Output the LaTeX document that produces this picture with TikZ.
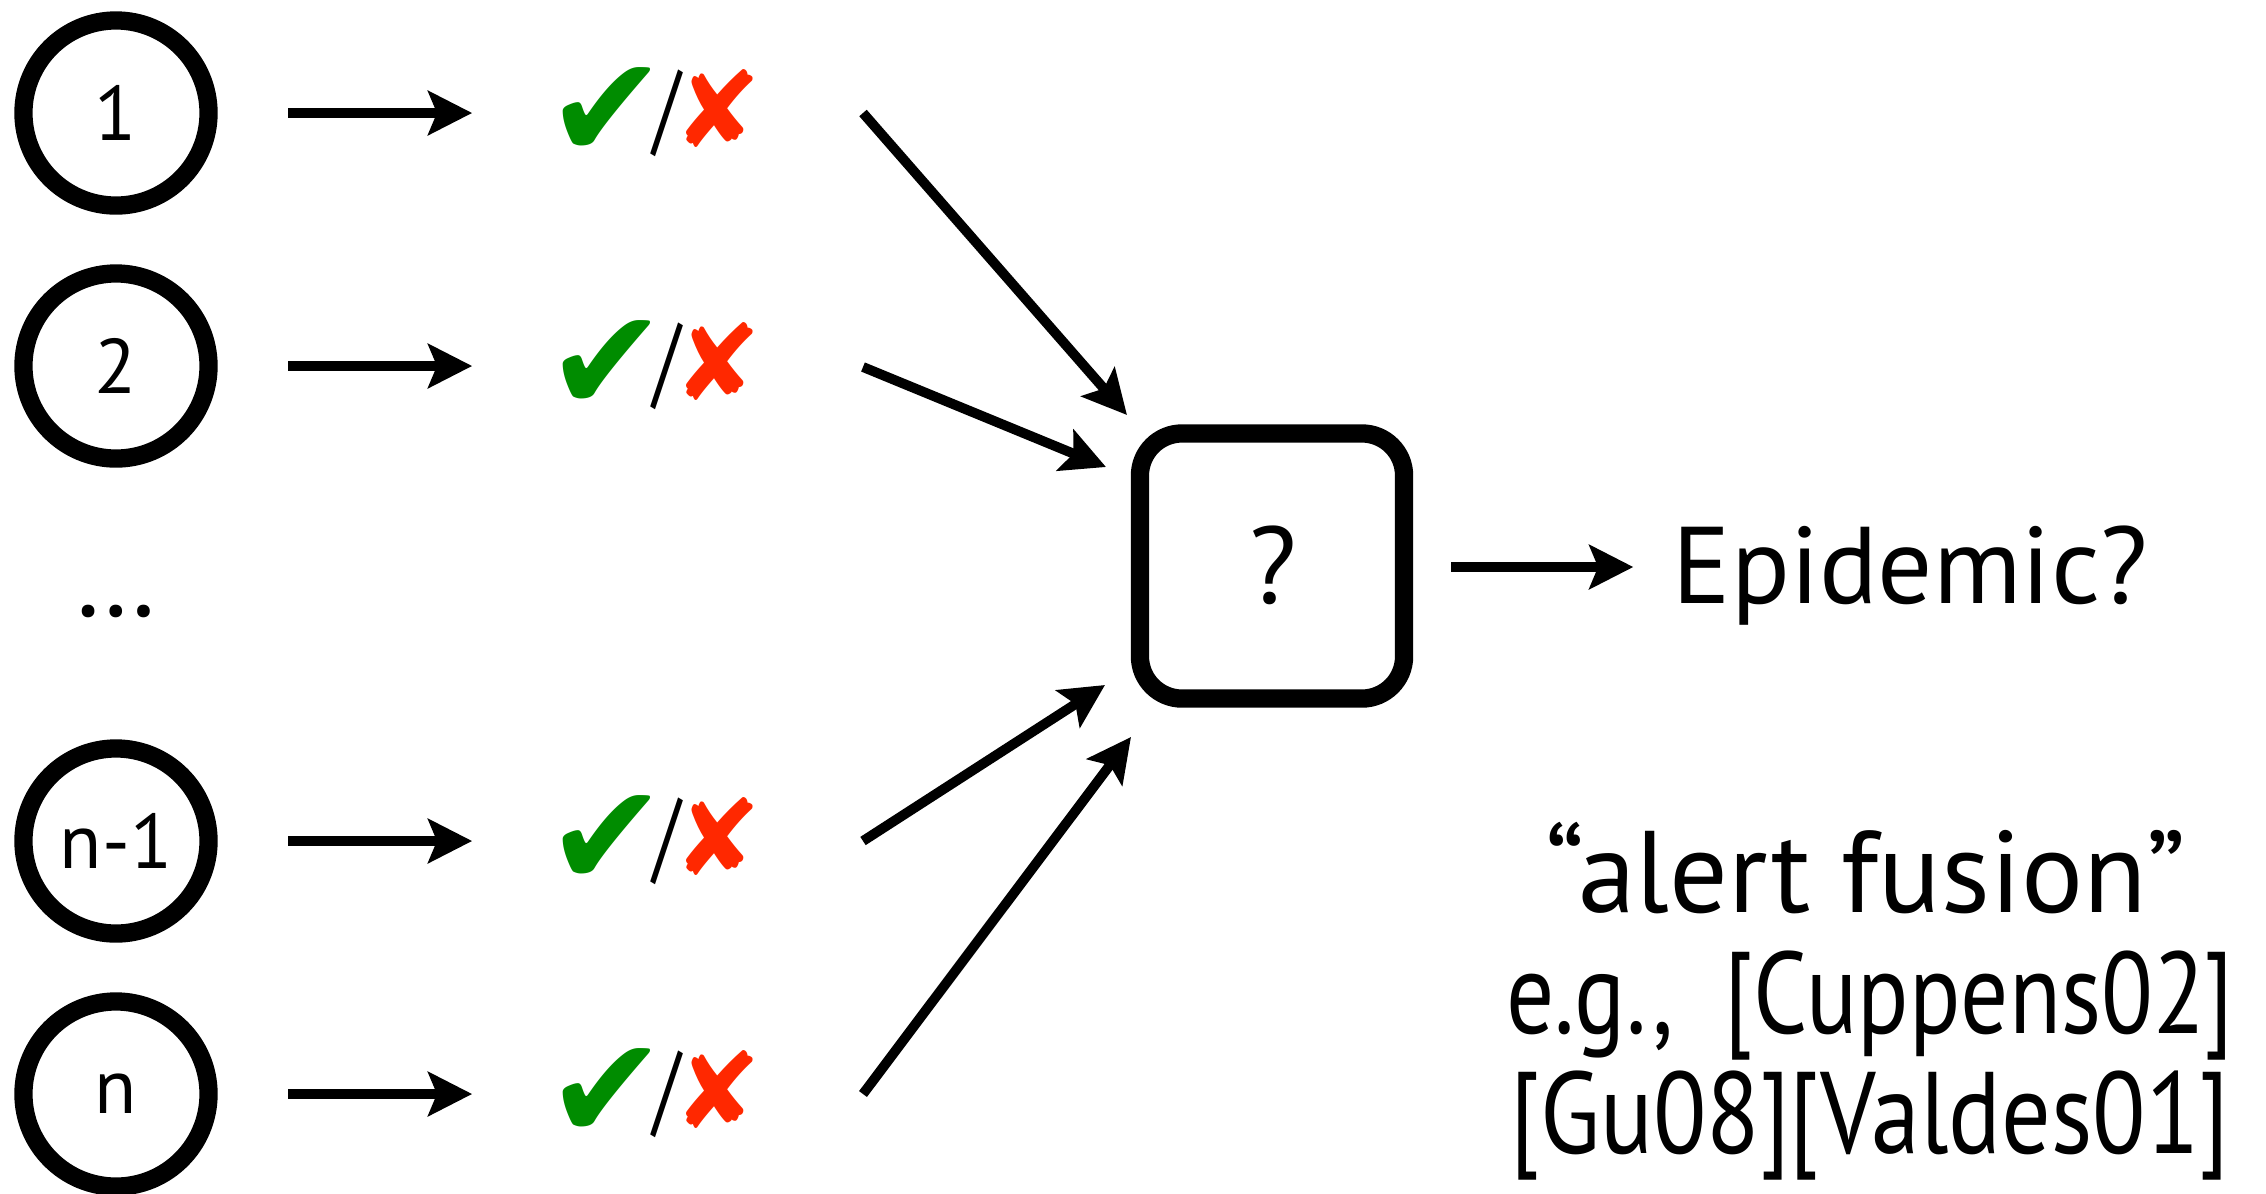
\documentclass[tikz,border=0pt]{standalone}
\usepackage{fontspec}
\setmainfont{PT Sans}
\newfontfamily\symfont{DejaVu Sans}
\usetikzlibrary{arrows.meta}
\definecolor{chkgreen}{RGB}{0,140,0}
\definecolor{xred}{RGB}{255,40,0}
\newcommand{\okko}{\raisebox{-3pt}{\symfont\fontsize{41}{41}\selectfont\color{chkgreen}✔}\hspace{-4pt}{\color{black}\raisebox{1.5pt}{\fontsize{29}{29}\selectfont\scalebox{0.75}[1]{/}}}\hspace{-2pt}{\symfont\fontsize{30}{30}\selectfont\color{xred}✘}}
\begin{document}
\begin{tikzpicture}[x=0.01cm,y=-0.01cm,
  agent/.style={circle,draw,line width=5.2pt,minimum size=1.85cm,inner sep=0pt,font=\fontsize{22}{26}\selectfont},
  verdict/.style={inner sep=0pt,anchor=west,font=\fontsize{33}{36}\selectfont},
  arr/.style={line width=2.8pt,-{Stealth[length=12.5pt,width=12.5pt,inset=2.5pt]}},
  fusebox/.style={draw,line width=5.2pt,rounded corners=12pt,minimum width=2.64cm,minimum height=2.65cm,inner sep=0pt},
  big/.style={font=\fontsize{31}{36}\selectfont,inner sep=0pt},
  refs/.style={font=\fontsize{33}{34}\selectfont,inner sep=0pt,align=center}]
\useasboundingbox (0,0) rectangle (2266,1193);

\node[agent] (c1) at (116,113) {1};
\node[agent] (c2) at (116,366) {2};
\node[agent] (cn1) at (116,841) {n-1};
\node[agent] (cn) at (116,1094) {n};
\node[big,anchor=base] (dots) at (116,616) {\dots};

\node[verdict] (k1) at (546,113) {\okko};
\node[verdict] (k2) at (546,366) {\okko};
\node[verdict] (kn1) at (546,841) {\okko};
\node[verdict] (kn) at (546,1094) {\okko};

\foreach \a/\b in {c1/k1,c2/k2,cn1/kn1,cn/kn}
  \draw[arr,shorten <=20pt,shorten >=21pt] (\a) -- (\b.west);

\node[fusebox] (box) at (1272,566) {};
\node[big,anchor=base] (q) at (1273,603) {?};

\coordinate (s1) at (863,113);  \coordinate (e1) at (1127,415);
\coordinate (s2) at (863,367);  \coordinate (e2) at (1106,467);
\coordinate (s3) at (863,841);  \coordinate (e3) at (1105,685);
\coordinate (s4) at (863,1094); \coordinate (e4) at (1131,737);
\foreach \i in {1,2,3,4} \draw[arr] (s\i) -- (e\i);

\node[big,anchor=base west] (epi) at (1672,603) {Epidemic?};
\coordinate (o1) at (1451,567);
\draw[arr,shorten >=11pt] (o1) -- (epi.west |- o1);

\node[refs,anchor=base] (r1) at (1866,912) {“alert fusion”};
\node[refs,anchor=base] (r2) at (1870,1033) {\scalebox{0.82}[1]{e.g.,\ \ [Cuppens02]}};
\node[refs,anchor=base] (r3) at (1870,1153) {\scalebox{0.845}[1]{[Gu08][Valdes01]}};
\end{tikzpicture}
\end{document}
